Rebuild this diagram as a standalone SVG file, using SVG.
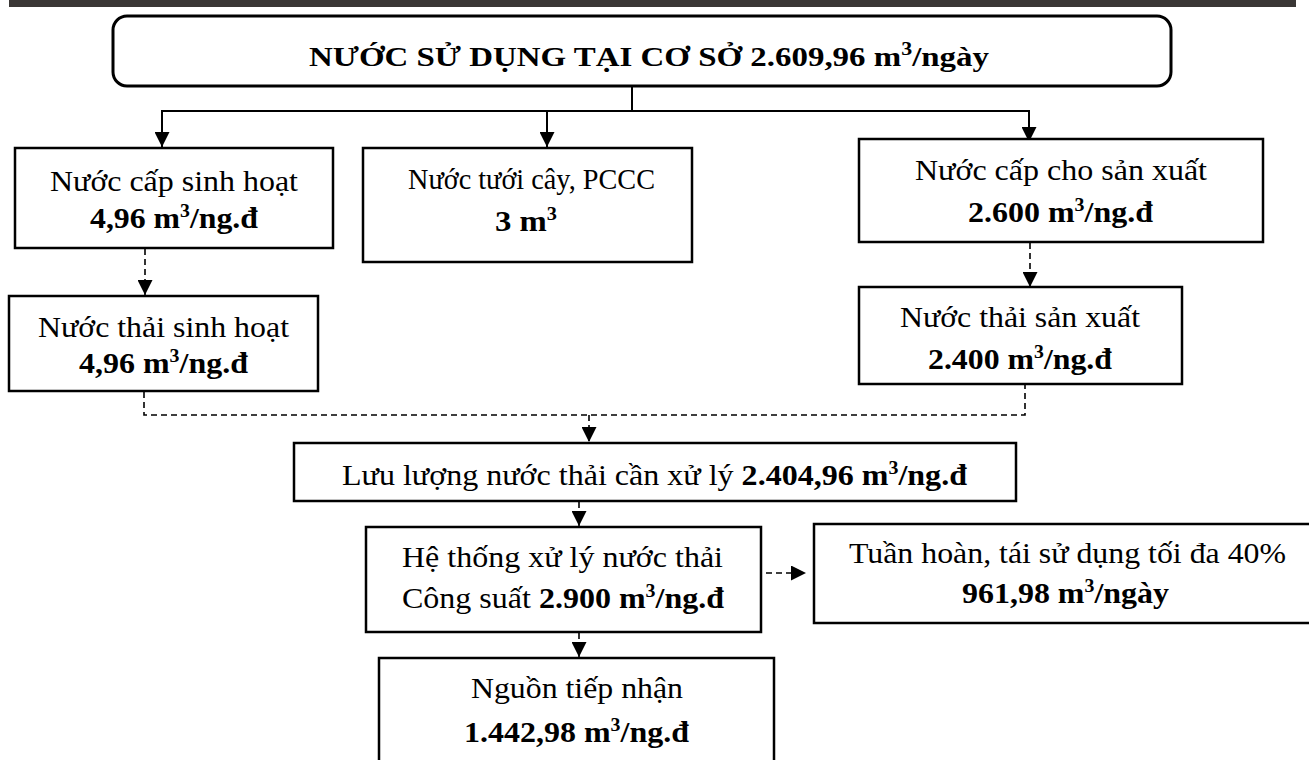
<svg xmlns="http://www.w3.org/2000/svg" width="1309" height="760" viewBox="0 0 1309 760">
<style>
.box{fill:#fff;stroke:#000;stroke-width:2.5}
.t{font-family:"Liberation Serif","Times New Roman",serif;font-size:29px;fill:#000}
.b{font-weight:bold}
.sup{font-size:18px}
.ln{fill:none;stroke:#000;stroke-width:2}
.dl{fill:none;stroke:#000;stroke-width:1.6;stroke-dasharray:6 4}
</style>
<defs>
<marker id="ah" viewBox="0 0 10 10" refX="10" refY="5" markerWidth="15" markerHeight="15" markerUnits="userSpaceOnUse" orient="auto">
<path d="M0,0 L10,5 L0,10 z" fill="#000"/>
</marker>
</defs>
<rect x="9" y="0" width="1287" height="7" fill="#3a3735"/>

<g id="connectors">
<path class="ln" d="M632,86 V111 M161,111 H1030"/>
<path class="ln" d="M162,111 V147" marker-end="url(#ah)"/>
<path class="ln" d="M547,111 V147" marker-end="url(#ah)"/>
<path class="ln" d="M1029,111 V142" marker-end="url(#ah)"/>
<path class="dl" d="M145,249 V295" marker-end="url(#ah)"/>
<path class="dl" d="M1030,243 V287" marker-end="url(#ah)"/>
<path class="dl" d="M144,392 V415 H1025 V385"/>
<path class="dl" d="M589,415 V442" marker-end="url(#ah)"/>
<path class="dl" d="M579,502 V526" marker-end="url(#ah)"/>
<path class="dl" d="M579,633 V657" marker-end="url(#ah)"/>
<path class="dl" d="M766,573 H806" marker-end="url(#ah)"/>
</g>

<g id="n-top">
<rect class="box" x="113" y="16" width="1058" height="70" rx="14" style="stroke-width:3"/>
<text class="t b" x="309" y="66" textLength="680" lengthAdjust="spacingAndGlyphs" style="font-size:27px">NƯỚC SỬ DỤNG TẠI CƠ SỞ 2.609,96 m<tspan class="sup" dy="-11">3</tspan><tspan dy="11">/ngày</tspan></text>
</g>

<g id="n-cap-sh">
<rect class="box" x="15" y="148" width="318" height="100"/>
<text class="t" x="50" y="191" textLength="248" lengthAdjust="spacingAndGlyphs">Nước cấp sinh hoạt</text>
<text class="t b" x="90" y="228" textLength="168" lengthAdjust="spacingAndGlyphs">4,96 m<tspan class="sup" dy="-11">3</tspan><tspan dy="11">/ng.đ</tspan></text>
</g>

<g id="n-tuoi">
<rect class="box" x="363" y="148" width="329" height="114"/>
<text class="t" x="408" y="189" textLength="247" lengthAdjust="spacingAndGlyphs">Nước tưới cây, PCCC</text>
<text class="t b" x="495" y="231" textLength="62" lengthAdjust="spacingAndGlyphs">3 m<tspan class="sup" dy="-11">3</tspan></text>
</g>

<g id="n-cap-sx">
<rect class="box" x="859" y="139" width="404" height="103"/>
<text class="t" x="915" y="180" textLength="292" lengthAdjust="spacingAndGlyphs">Nước cấp cho sản xuất</text>
<text class="t b" x="968" y="222" textLength="185" lengthAdjust="spacingAndGlyphs">2.600 m<tspan class="sup" dy="-11">3</tspan><tspan dy="11">/ng.đ</tspan></text>
</g>

<g id="n-thai-sh">
<rect class="box" x="9" y="296" width="309" height="95"/>
<text class="t" x="38" y="337" textLength="251" lengthAdjust="spacingAndGlyphs">Nước thải sinh hoạt</text>
<text class="t b" x="79" y="373" textLength="169" lengthAdjust="spacingAndGlyphs">4,96 m<tspan class="sup" dy="-11">3</tspan><tspan dy="11">/ng.đ</tspan></text>
</g>

<g id="n-thai-sx">
<rect class="box" x="859" y="287" width="323" height="97"/>
<text class="t" x="900" y="327" textLength="240" lengthAdjust="spacingAndGlyphs">Nước thải sản xuất</text>
<text class="t b" x="928" y="369" textLength="184" lengthAdjust="spacingAndGlyphs">2.400 m<tspan class="sup" dy="-11">3</tspan><tspan dy="11">/ng.đ</tspan></text>
</g>

<g id="n-luuluong">
<rect class="box" x="294" y="443" width="722" height="58"/>
<text class="t" x="342" y="485" textLength="625" lengthAdjust="spacingAndGlyphs">Lưu lượng nước thải cần xử lý <tspan class="b">2.404,96 m</tspan><tspan class="b sup" dy="-11">3</tspan><tspan class="b" dy="11">/ng.đ</tspan></text>
</g>

<g id="n-hethong">
<rect class="box" x="366" y="527" width="395" height="105"/>
<text class="t" x="402" y="567" textLength="321" lengthAdjust="spacingAndGlyphs">Hệ thống xử lý nước thải</text>
<text class="t" x="402" y="608" textLength="322" lengthAdjust="spacingAndGlyphs">Công suất <tspan class="b">2.900 m</tspan><tspan class="b sup" dy="-11">3</tspan><tspan class="b" dy="11">/ng.đ</tspan></text>
</g>

<g id="n-tuanhoan">
<rect class="box" x="814" y="524" width="500" height="99"/>
<text class="t" x="849" y="563" textLength="437" lengthAdjust="spacingAndGlyphs">Tuần hoàn, tái sử dụng tối đa 40%</text>
<text class="t b" x="962" y="603" textLength="207" lengthAdjust="spacingAndGlyphs">961,98 m<tspan class="sup" dy="-11">3</tspan><tspan dy="11">/ngày</tspan></text>
</g>

<g id="n-nguon">
<rect class="box" x="379" y="658" width="395" height="110"/>
<text class="t" x="471" y="698" textLength="212" lengthAdjust="spacingAndGlyphs">Nguồn tiếp nhận</text>
<text class="t b" x="464" y="742" textLength="225" lengthAdjust="spacingAndGlyphs">1.442,98 m<tspan class="sup" dy="-11">3</tspan><tspan dy="11">/ng.đ</tspan></text>
</g>
</svg>
